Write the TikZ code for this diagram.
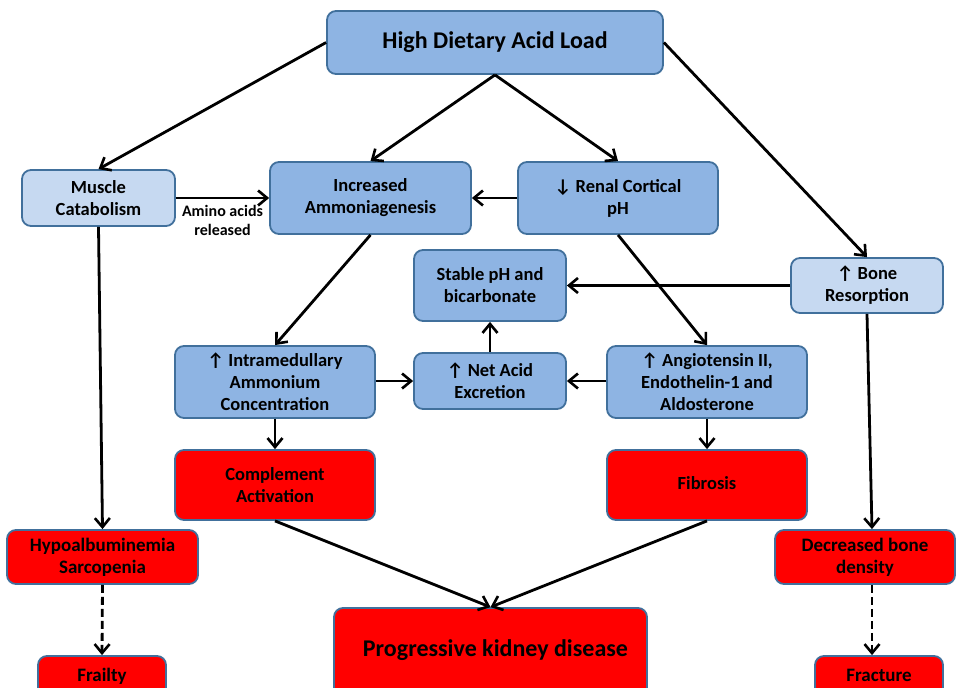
\documentclass[tikz,border=0pt]{standalone}
\usepackage{fontspec}
\setmainfont{Carlito}
\usetikzlibrary{arrows.meta,calc}
\definecolor{midblue}{HTML}{8EB4E3}
\definecolor{lightblue}{HTML}{C6D9F1}
\definecolor{edgeblue}{HTML}{41709C}
\definecolor{boxred}{HTML}{FF0000}
\tikzset{
  box/.style={draw=edgeblue, line width=1.8pt, rounded corners=9pt, align=center,
    font=\bfseries\fontsize{18.5}{22}\selectfont, inner sep=2pt},
  mid/.style={box, fill=midblue},
  light/.style={box, fill=lightblue},
  redbox/.style={box, fill=boxred},
  redsmall/.style={redbox, font=\bfseries\fontsize{19}{22}\selectfont},
  arr/.style={line width=2.8pt, -{Straight Barb[length=9pt,width=15pt,line width=2.6pt]}},
  darr/.style={arr, dash pattern=on 8pt off 4pt},
}
\begin{document}
\begin{tikzpicture}[x=1pt,y=-1pt]
\useasboundingbox (0,0) rectangle (956,688);
\clip (0,0) rectangle (956,688);
\node[mid, minimum width=336pt, minimum height=63pt, font=\bfseries\fontsize{24}{26}\selectfont] (high) at (495,42.5) {High Dietary Acid Load};
\node[light, minimum width=153pt, minimum height=56pt] (muscle) at (98.5,198) {Muscle\\Catabolism};
\node[mid, minimum width=201pt, minimum height=72pt] (incr) at (370.5,198) {Increased\\Ammoniagenesis};
\node[mid, minimum width=200pt, minimum height=72pt] (renal) at (618,198) {↓ Renal Cortical\\pH};
\node[mid, minimum width=152pt, minimum height=71pt] (stable) at (490,285.5) {Stable pH and\\bicarbonate};
\node[light, minimum width=152pt, minimum height=55pt] (bone) at (867,285.5) {↑ Bone\\Resorption};
\node[mid, minimum width=200pt, minimum height=72pt] (intra) at (275,382) {↑ Intramedullary\\Ammonium\\Concentration};
\node[mid, minimum width=152pt, minimum height=56pt] (net) at (490,381) {↑ Net Acid\\Excretion};
\node[mid, minimum width=200pt, minimum height=72pt] (angio) at (707,382) {↑ Angiotensin II,\\Endothelin-1 and\\Aldosterone};
\node[redbox, minimum width=200pt, minimum height=70pt] (compl) at (275,485) {Complement\\Activation};
\node[redbox, minimum width=200pt, minimum height=70pt] (fib) at (707,485) {\raisebox{3pt}{Fibrosis}};
\node[redsmall, minimum width=191pt, minimum height=54pt] (hypo) at (102.5,557) {Hypoalbuminemia\\Sarcopenia};
\node[redsmall, minimum width=180pt, minimum height=54pt] (dec) at (865,557) {Decreased bone\\density};
\node[redbox, minimum width=313pt, minimum height=90pt, font=\bfseries\fontsize{24}{26}\selectfont] (prog) at (490.5,653) {\hspace*{10pt}\raisebox{9pt}{Progressive kidney disease}};
\node[redsmall, minimum width=128pt, minimum height=44pt] (frail) at (102,678) {\raisebox{6pt}{Frailty}};
\node[redsmall, minimum width=128pt, minimum height=44pt] (frac) at (879,678) {\raisebox{6pt}{Fracture}};
\coordinate (decin) at ($(dec.north)+(7,0)$);
\coordinate (decout) at ($(dec.south)+(7,0)$);
% connectors
\draw[arr] (high.west) -- (muscle.north);
\draw[arr] (high.east) -- (bone.north);
\draw[arr] (high.south) -- (incr.north);
\draw[arr] (high.south) -- (renal.north);
\draw[arr] (muscle.east) -- node[below=3pt, font=\bfseries\fontsize{16}{19}\selectfont, align=center] (lbl) {Amino acids\\released} (incr.west |- muscle.east);
\draw[arr] (renal.west) -- (incr.east);
\draw[arr] (incr.south) -- (intra.north);
\draw[arr] (renal.south) -- (angio.north);
\draw[arr] (bone.west) -- (stable.east |- bone.west);
\draw[arr] (net.north) -- (stable.south);
\draw[arr] (intra.east |- net.east) -- (net.west);
\draw[arr] (angio.west |- net.east) -- (net.east);
\draw[arr] (intra.south) -- (compl.north);
\draw[arr] (angio.south) -- (fib.north);
\draw[arr] (compl.south) -- (prog.north);
\draw[arr] (fib.south) -- (prog.north);
\draw[arr] (muscle.south) -- (hypo.north);
\draw[arr] (bone.south) -- (decin);
\draw[darr] (hypo.south) -- (frail.north);
\draw[darr] (decout) -- (decout |- frac.north);
\end{tikzpicture}
\end{document}
